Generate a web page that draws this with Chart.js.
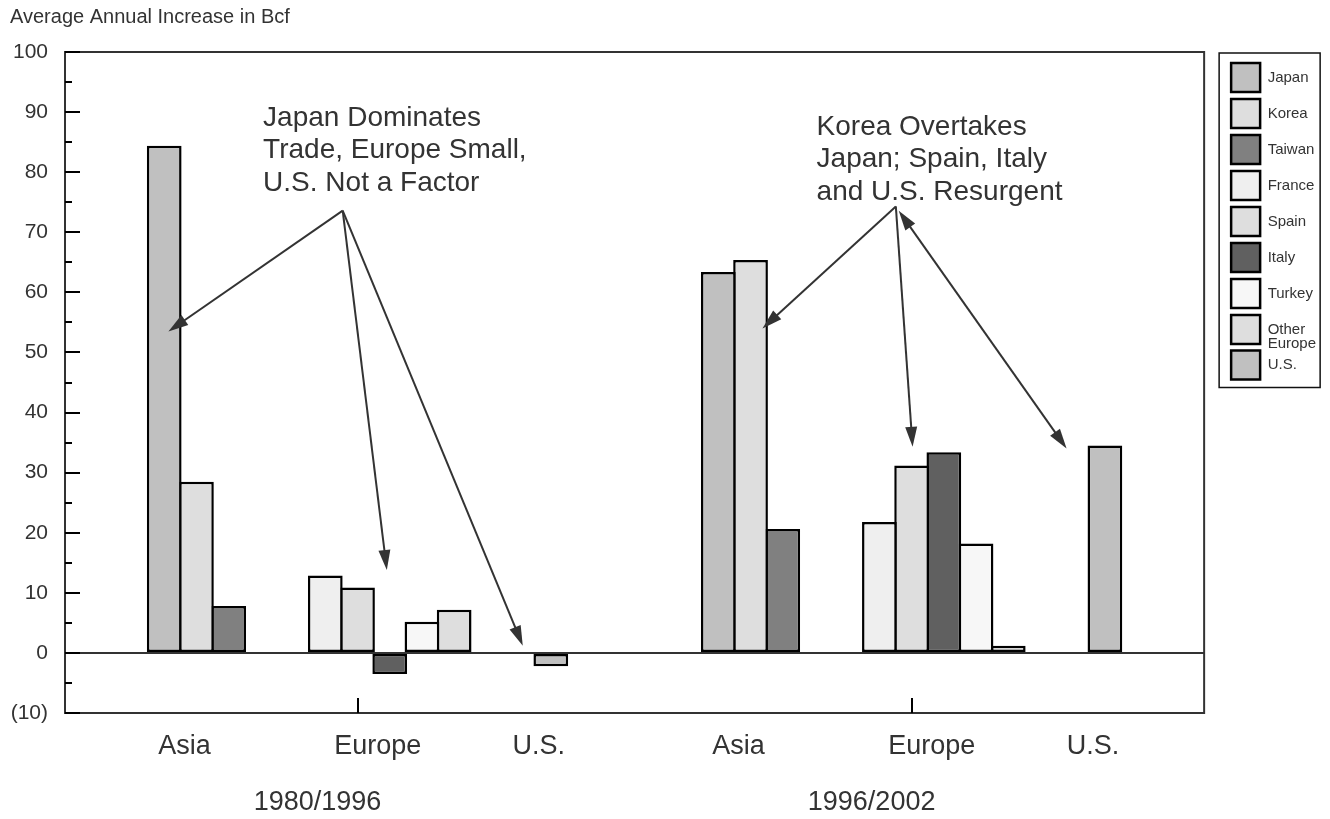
<!DOCTYPE html>
<html>
<head>
<meta charset="utf-8">
<script src="https://cdn.jsdelivr.net/npm/chart.js@4.4.0/dist/chart.umd.min.js"></script>
<style>
  html, body { margin: 0; padding: 0; background: #fff; }
  #wrap { width: 1330px; height: 819px; }
</style>
</head>
<body>
<div id="wrap"><canvas id="lng"></canvas></div>
<script>
// data
const periods = ['1980/1996', '1996/2002'];
const regions = ['Asia', 'Europe', 'U.S.'];
const countries = ['Japan', 'Korea', 'Taiwan', 'France', 'Spain', 'Italy', 'Turkey', 'Other Europe', 'U.S.'];
const countryRegion = ['Asia', 'Asia', 'Asia', 'Europe', 'Europe', 'Europe', 'Europe', 'Europe', 'U.S.'];
const increase8096 = [84.4, 28.5, 7.8, 12.9, 10.9, -3.5, 5.2, 7.2, -2.2];
const increase9602 = [63.4, 65.4, 20.6, 21.8, 31.2, 33.4, 18.2, 1.2, 34.5];
const yTickValues = [-10, 0, 10, 20, 30, 40, 50, 60, 70, 80, 90, 100];
const yTickLabels = ['(10)', '0', '10', '20', '30', '40', '50', '60', '70', '80', '90', '100'];

// look
const fills = ['#c0c0c0', '#dedede', '#808080', '#efefef', '#dedede', '#606060', '#f7f7f7', '#dedede', '#c0c0c0'];
const fontFamily = '"Liberation Sans", Arial, sans-serif';
const ink = '#333';

// x axis is measured in bar slots: regions are 2 empty slots apart,
// the two periods sit periodStep slots apart
const regionGap = 2;
const periodStep = 17.2;
const xPad = 9.08;

const slot = [];
let pos = 0;
regions.forEach((r, i) => {
  if (i > 0) pos += regionGap;
  countries.forEach((c, j) => { if (countryRegion[j] === r) slot[j] = pos++; });
});
const slotsPerPeriod = pos;
const slotX = (p, j) => p * periodStep + slot[j] - (slotsPerPeriod - 1) / 2;

const regionTicks = [];
const regionTickLabels = [];
periods.forEach((p, i) => {
  regions.forEach(r => {
    const xs = countries.map((c, j) => j).filter(j => countryRegion[j] === r).map(j => slotX(i, j));
    regionTicks.push(xs.reduce((a, b) => a + b, 0) / xs.length);
    regionTickLabels.push(r);
  });
});

const series = [increase8096, increase9602];
const datasets = countries.map((c, j) => ({
  label: c,
  data: periods.map((p, i) => ({ x: slotX(i, j), y: series[i][j] })),
  backgroundColor: fills[j],
  borderColor: '#000',
  borderWidth: 2.5,
  borderSkipped: false,
  grouped: false,
  categoryPercentage: 1,
  barPercentage: 1.078
}));

// call-outs, placed in axis units (x in bar slots, y in Bcf)
const notes = [
  { lines: ['Japan Dominates', 'Trade, Europe Small,', 'U.S. Not a Factor'], x: -2.93, y: 87.7 },
  { lines: ['Korea Overtakes', 'Japan; Spain, Italy', 'and U.S. Resurgent'], x: 14.25, y: 86.2 }
];
const arrows = [
  { from: [-0.46, 73.6], to: [-5.87, 53.5] },
  { from: [-0.46, 73.6], to: [0.91, 13.8] },
  { from: [-0.46, 73.6], to: [5.13, 1.2] },
  { from: [16.71, 74.3], to: [12.57, 54.0] },
  { from: [16.71, 74.3], to: [17.23, 34.3] },
  { from: [22.01, 34.0], to: [16.80, 73.6], both: true }
];

function arrowHead(ctx, fx, fy, tx, ty) {
  const a = Math.atan2(ty - fy, tx - fx);
  const L = 20, W = 6;
  ctx.beginPath();
  ctx.moveTo(tx, ty);
  ctx.lineTo(tx - L * Math.cos(a) + W * Math.sin(a), ty - L * Math.sin(a) - W * Math.cos(a));
  ctx.lineTo(tx - L * Math.cos(a) - W * Math.sin(a), ty - L * Math.sin(a) + W * Math.cos(a));
  ctx.closePath();
  ctx.fill();
}

const extras = {
  id: 'extras',
  afterDraw(chart) {
    const { ctx, chartArea: a, scales: { x, y, xPeriod } } = chart;
    ctx.save();
    // plot frame
    ctx.strokeStyle = ink;
    ctx.lineWidth = 2;
    ctx.strokeRect(a.left, a.top, a.right - a.left, a.bottom - a.top);

    // tick marks pointing into the plot
    ctx.strokeStyle = '#000';
    y.ticks.forEach(t => {
      const py = Math.round(y.getPixelForValue(t.value));
      ctx.beginPath();
      ctx.moveTo(a.left, py);
      ctx.lineTo(a.left + (t.value % 10 === 0 ? 15 : 7), py);
      ctx.stroke();
    });
    xPeriod.ticks.forEach(t => {
      const px = Math.round(xPeriod.getPixelForValue(t.value));
      ctx.beginPath();
      ctx.moveTo(px, a.bottom);
      ctx.lineTo(px, a.bottom - 15);
      ctx.stroke();
    });

    // legend frame
    const hb = chart.legend.legendHitBoxes;
    if (hb && hb.length) {
      const last = hb[hb.length - 1];
      const left = hb[0].left - 12;
      const top = a.top + 1;
      ctx.strokeStyle = '#111';
      ctx.lineWidth = 1.5;
      ctx.strokeRect(left, top, 101, last.top + 29 + 8 - top);
    }

    // call-out text and arrows
    ctx.fillStyle = ink;
    ctx.font = '28px ' + fontFamily;
    ctx.textBaseline = 'alphabetic';
    ctx.textAlign = 'left';
    notes.forEach(n => {
      const px = x.getPixelForValue(n.x);
      const py = y.getPixelForValue(n.y);
      n.lines.forEach((line, i) => ctx.fillText(line, px, py + i * 32.5));
    });
    ctx.strokeStyle = ink;
    ctx.lineWidth = 2;
    arrows.forEach(ar => {
      const fx = x.getPixelForValue(ar.from[0]), fy = y.getPixelForValue(ar.from[1]);
      const tx = x.getPixelForValue(ar.to[0]), ty = y.getPixelForValue(ar.to[1]);
      const len = Math.hypot(tx - fx, ty - fy);
      const ux = (tx - fx) / len, uy = (ty - fy) / len;
      const s = ar.both ? 10 : 0;
      ctx.beginPath();
      ctx.moveTo(fx + ux * s, fy + uy * s);
      ctx.lineTo(tx - ux * 10, ty - uy * 10);
      ctx.stroke();
      arrowHead(ctx, fx, fy, tx, ty);
      if (ar.both) arrowHead(ctx, tx, ty, fx, fy);
    });
    ctx.restore();
  }
};

Chart.defaults.font.family = fontFamily;
Chart.defaults.color = ink;

const legendText = { 'Other Europe': ['Other', 'Europe'] };

new Chart(document.getElementById('lng'), {
  type: 'bar',
  data: { datasets: datasets },
  options: {
    responsive: true,
    maintainAspectRatio: false,
    animation: false,
    devicePixelRatio: 1,
    layout: { padding: { left: 10, right: 4, top: 0, bottom: 1 } },
    plugins: {
      tooltip: { enabled: false },
      title: {
        display: true,
        text: 'Average Annual Increase in Bcf',
        align: 'start',
        color: ink,
        font: { size: 20, weight: 'normal' },
        padding: { top: 5, bottom: 23 }
      },
      legend: {
        position: 'right',
        align: 'start',
        fullSize: false,
        title: { display: true, text: '', font: { size: 4, lineHeight: 1 }, padding: 0 },
        labels: {
          boxWidth: 29,
          boxHeight: 29,
          padding: 7,
          color: ink,
          font: { size: 15, lineHeight: 0.95 },
          generateLabels: chart => Chart.defaults.plugins.legend.labels.generateLabels(chart).map(item => {
            if (legendText[item.text]) item.text = legendText[item.text];
            return item;
          })
        }
      }
    },
    scales: {
      x: {
        type: 'linear',
        position: 'bottom',
        weight: 0,
        offset: false,
        min: -xPad,
        max: periodStep + xPad,
        afterBuildTicks: s => { s.ticks = regionTicks.map(v => ({ value: v })); },
        afterFit: s => { s.height = 48; s.paddingLeft = 0; s.paddingRight = 0; },
        ticks: {
          autoSkip: false,
          maxRotation: 0,
          padding: 17,
          labelOffset: -12,
          color: ink,
          font: { size: 27 },
          callback: (v, i) => regionTickLabels[i]
        },
        grid: { display: false, drawTicks: false, offset: false },
        border: { display: true, color: ink, width: 2 }
      },
      xPeriod: {
        type: 'linear',
        axis: 'x',
        position: 'bottom',
        weight: 1,
        offset: false,
        min: -xPad,
        max: periodStep + xPad,
        afterBuildTicks: s => { s.ticks = periods.map((p, i) => ({ value: i * periodStep })); },
        afterFit: s => { s.height = 57; s.paddingLeft = 0; s.paddingRight = 0; },
        ticks: {
          autoSkip: false,
          maxRotation: 0,
          padding: 25,
          labelOffset: -40,
          color: ink,
          font: { size: 27 },
          callback: (v, i) => periods[i]
        },
        grid: { display: false, drawTicks: false },
        border: { display: false }
      },
      y: {
        min: -10,
        max: 100,
        afterFit: s => { s.width = 55; },
        ticks: {
          stepSize: 5,
          autoSkip: false,
          padding: 17,
          color: ink,
          font: { size: 21 },
          callback: v => {
            const i = yTickValues.indexOf(v);
            return i >= 0 ? yTickLabels[i] : '';
          }
        },
        grid: {
          drawTicks: false,
          lineWidth: 2,
          color: c => (c.tick && c.tick.value === 0 ? ink : 'rgba(0,0,0,0)')
        },
        border: { display: true, color: ink, width: 2 }
      },
      gap: {
        type: 'linear',
        axis: 'y',
        position: 'right',
        min: 0,
        max: 1,
        ticks: { display: false },
        grid: { display: false },
        border: { display: false },
        afterFit: s => { s.width = 20; }
      }
    }
  },
  plugins: [extras]
});
</script>
</body>
</html>
